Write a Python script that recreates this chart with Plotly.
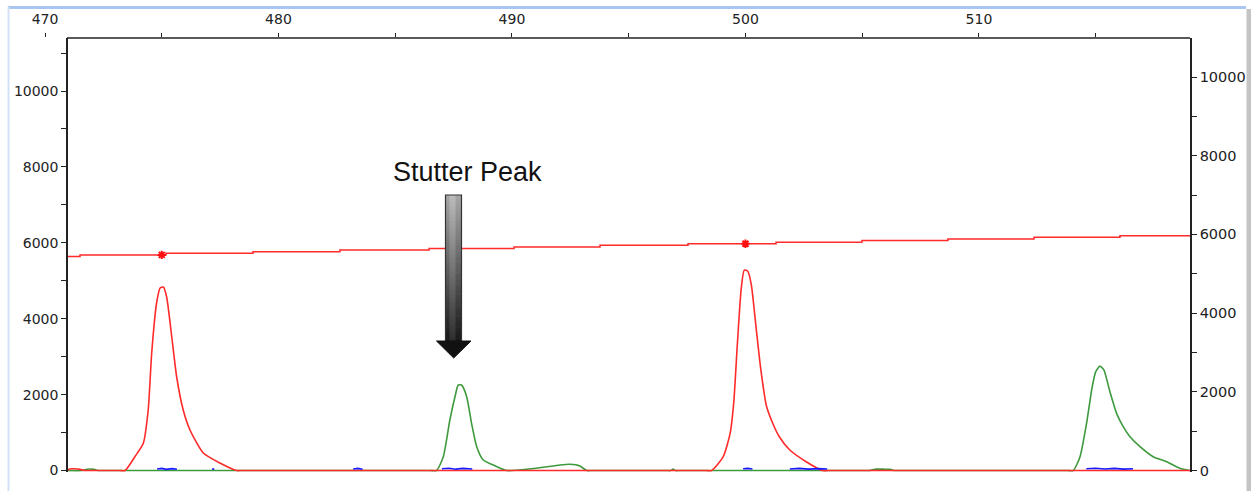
import plotly.graph_objects as go

# ---------------- data (size in bp, signal in RFU) ----------------
red_bp = [470.94, 471.05, 471.25, 471.5, 471.7, 471.9, 473.2, 473.43, 473.85, 474.21, 474.42, 474.57,
          474.78, 474.93, 475.07, 475.21, 475.43, 475.64, 475.92, 476.21, 476.78, 477.49, 478.21, 478.45,
          498.3, 498.55, 499.05, 499.35, 499.5, 499.65, 499.82, 499.95, 500.1, 500.25, 500.45,
          500.65, 500.9, 501.2, 501.45, 501.9, 502.6, 503.3, 503.55, 519.04]
red_rfu = [0, 40, 45, 30, 0, 0, 0, 0, 364, 717, 1594, 3096,
           4414, 4809, 4835, 4572, 3518, 2464, 1594, 1067, 461, 198, 0, 0,
           0, 0, 364, 1000, 1800, 3300, 4800, 5280, 5250, 4900, 3800,
           2700, 1700, 1200, 890, 540, 232, 0, 0, 0]

green_bp = [470.94, 471.6, 471.8, 472.1, 472.3, 472.5, 486.5, 486.77, 487.06, 487.34, 487.56, 487.7,
            487.84, 488.06, 488.27, 488.49, 488.77, 489.2, 489.77, 490.63, 491.34, 492.06,
            492.48, 492.91, 493.2, 493.45, 496.6, 496.8, 496.9, 497.0, 497.2, 505.1, 505.3, 505.6,
            505.9, 506.2, 506.4, 506.6, 513.8, 514.04, 514.33, 514.61, 514.85, 515.0, 515.18,
            515.35, 515.6, 515.9, 516.18, 516.47, 516.9, 517.46, 518.04, 518.6, 519.04]
green_rfu = [0, 0, 35, 30, 0, 0, 0, 0, 364, 1330, 1945, 2253,
             2253, 1945, 1244, 627, 277, 145, 0, 30, 84, 145,
             163, 119, 0, 0, 0, 0, 35, 0, 0, 0, 0, 35,
             35, 30, 0, 0, 0, 0, 364, 1244, 2200, 2600, 2750,
             2650, 2100, 1500, 1154, 890, 627, 364, 232, 58, 0]

blue_bp = [474.8, 475.0, 475.2, 475.45, 475.65, None, 477.15, 477.25, None,
           483.2, 483.4, 483.6, None, 487.0, 487.3, 487.6, 487.9, 488.3, None,
           499.9, 500.1, 500.3, None, 501.9, 502.3, 502.7, 503.1, 503.5, None,
           514.6, 515.0, 515.4, 515.8, 516.2, 516.6]
blue_rfu = [40, 55, 30, 50, 35, None, 40, 35, None,
            40, 55, 35, None, 45, 60, 35, 55, 40, None,
            45, 55, 40, None, 40, 55, 35, 50, 40, None,
            45, 60, 40, 55, 35, 45]

thr_bp = [470.94, 471.5, 475.18, 478.91, 482.63, 486.45, 490.09, 493.77, 497.54,
          501.31, 504.99, 508.67, 512.36, 516.04, 519.04]
thr_rfu = [5640, 5682, 5724, 5766, 5808, 5850, 5892, 5934, 5976,
           6018, 6060, 6102, 6144, 6186, 6186]

star_bp = [475, 500]
star_rfu = [5682, 5976]

x_ticks = [470, 480, 490, 500, 510]
x_tick_labels = ["470", "480", "490", "500", "510"]
y_ticks = [0, 2000, 4000, 6000, 8000, 10000]
y_tick_labels = ["0", "2000", "4000", "6000", "8000", "10000"]

annotation_text = "Stutter Peak"

# ---------------- figure ----------------
W, H = 1251, 491
L, R, T, B = 45, 61, 38, 19
PW, PH = W - L - R, H - T - B


def px(xp):
    return (xp - L) / PW


def py(yp):
    return (H - B - yp) / PH


fig = go.Figure()
fig.add_trace(go.Scatter(x=green_bp, y=green_rfu, mode="lines",
                         line=dict(color="#3d9a3d", width=1.6, shape="spline", smoothing=0.6),
                         hoverinfo="skip"))
fig.add_trace(go.Scatter(x=red_bp, y=red_rfu, mode="lines",
                         line=dict(color="#ff2a2a", width=1.6, shape="spline", smoothing=0.6),
                         hoverinfo="skip"))
fig.add_trace(go.Scatter(x=blue_bp, y=blue_rfu, mode="lines", connectgaps=False,
                         line=dict(color="#1a1aff", width=1.6), hoverinfo="skip"))
fig.add_trace(go.Scatter(x=thr_bp, y=thr_rfu, mode="lines", line_shape="hv",
                         line=dict(color="#ff2a2a", width=1.5), hoverinfo="skip"))
fig.add_trace(go.Scatter(x=star_bp, y=star_rfu, mode="markers",
                         marker=dict(symbol="asterisk", size=7,
                                     line=dict(color="#ff1010", width=2)),
                         hoverinfo="skip"))
# invisible trace to activate right axis
fig.add_trace(go.Scatter(x=[None], y=[None], yaxis="y2", showlegend=False))

font_tick = dict(family="DejaVu Sans", size=14, color="#222")

fig.update_layout(
    width=W, height=H,
    margin=dict(l=L, r=R, t=T, b=B, autoexpand=False),
    paper_bgcolor="white", plot_bgcolor="white",
    showlegend=False,
    xaxis=dict(side="top", range=[470, 519.04], showline=False, showgrid=False,
               zeroline=False, tickmode="array", tickvals=x_ticks, ticktext=x_tick_labels,
               ticks="outside", ticklen=4, tickwidth=1.2, tickcolor="#222",
               ticklabelstandoff=3, tickfont=font_tick,
               minor=dict(dtick=5, tick0=470, ticks="outside", ticklen=4,
                          tickwidth=1.2, tickcolor="#222", showgrid=False)),
    yaxis=dict(anchor="free", position=px(67), range=[-39.5, 11397],
               showline=True, linecolor="#222", linewidth=1.5, showgrid=False,
               zeroline=False, tickmode="array", tickvals=y_ticks, ticktext=y_tick_labels,
               ticks="outside", ticklen=5, tickwidth=1.2, tickcolor="#222",
               tickfont=font_tick,
               minor=dict(dtick=1000, tick0=0, ticks="outside", ticklen=5,
                          tickwidth=1.2, tickcolor="#222", showgrid=False)),
    yaxis2=dict(overlaying="y", side="right", anchor="x", range=[-38, 10991],
                showline=True, linecolor="#222", linewidth=1.5, showgrid=False,
                zeroline=False, tickmode="array", tickvals=y_ticks, ticktext=y_tick_labels,
                ticks="outside", ticklen=5, tickwidth=1.2, tickcolor="#222",
                tickfont=dict(family="DejaVu Sans", size=14.5, color="#222"),
                minor=dict(dtick=1000, tick0=0, ticks="outside", ticklen=5,
                           tickwidth=1.2, tickcolor="#222", showgrid=False)),
)

shapes = []
# top axis line (starts at the left y axis)
shapes.append(dict(type="line", xref="paper", yref="paper", x0=px(67), x1=1,
                   y0=1, y1=1, line=dict(color="#222", width=1.5)))
# window border decorations
shapes.append(dict(type="line", xref="paper", yref="paper", x0=px(8), x1=px(1246),
                   y0=py(7.5), y1=py(7.5), line=dict(color="#a9c5f2", width=3)))
shapes.append(dict(type="line", xref="paper", yref="paper", x0=px(8.5), x1=px(8.5),
                   y0=py(7), y1=py(491), line=dict(color="#d3e1f5", width=2)))
shapes.append(dict(type="rect", xref="paper", yref="paper", x0=px(1246.5), x1=px(1251),
                   y0=py(9), y1=py(491), fillcolor="#c4c4c4", line=dict(width=0)))

# gradient arrow (shaft)
sx0, sx1, sy0, sy1 = 445.5, 461.5, 195, 342
N = 40
c_top = (165, 165, 165)
c_bot = (25, 25, 25)
for i in range(N):
    t = i / (N - 1)
    c = tuple(int(c_top[k] + (c_bot[k] - c_top[k]) * t) for k in range(3))
    ya = sy0 + (sy1 - sy0) * i / N
    yb = sy0 + (sy1 - sy0) * (i + 1) / N + 0.6
    shapes.append(dict(type="rect", xref="paper", yref="paper",
                       x0=px(sx0), x1=px(sx1), y0=py(ya), y1=py(yb),
                       fillcolor="rgb(%d,%d,%d)" % c, line=dict(width=0)))
# lighter highlight stripe on the shaft
for i in range(N):
    t = i / (N - 1)
    c = tuple(int(min(255, (c_top[k] + (c_bot[k] - c_top[k]) * t) + 22)) for k in range(3))
    ya = sy0 + (sy1 - sy0) * i / N
    yb = sy0 + (sy1 - sy0) * (i + 1) / N + 0.6
    shapes.append(dict(type="rect", xref="paper", yref="paper",
                       x0=px(449.5), x1=px(455.5), y0=py(ya), y1=py(yb),
                       fillcolor="rgb(%d,%d,%d)" % c, line=dict(width=0)))
shapes.append(dict(type="rect", xref="paper", yref="paper",
                   x0=px(sx0), x1=px(sx1), y0=py(sy0), y1=py(sy1),
                   fillcolor="rgba(0,0,0,0)", line=dict(color="#333", width=1.2)))
# arrow head
hx0, hx1, hy, tipx, tipy = 436.5, 471, 341, 453.7, 358
path = "M %f %f L %f %f L %f %f Z" % (px(hx0), py(hy), px(hx1), py(hy), px(tipx), py(tipy))
shapes.append(dict(type="path", xref="paper", yref="paper", path=path,
                   fillcolor="#111111", line=dict(color="#111111", width=1)))

fig.update_layout(shapes=shapes)

fig.add_annotation(x=px(467), y=py(172), xref="paper", yref="paper",
                   text=annotation_text, showarrow=False,
                   font=dict(family="Liberation Sans", size=27, color="#111"),
                   xanchor="center", yanchor="middle")

fig.write_html("out.html")
